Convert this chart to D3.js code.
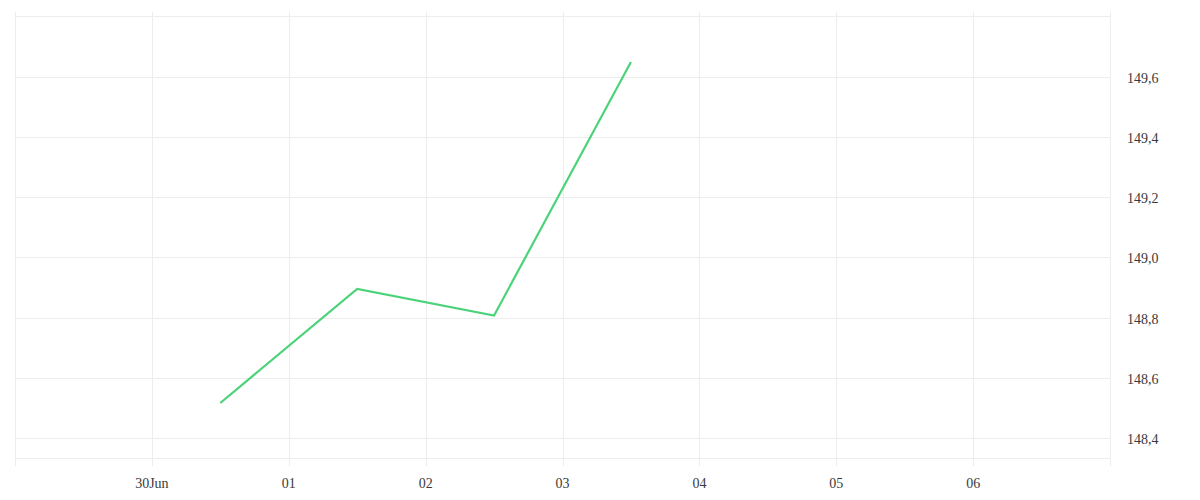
<!DOCTYPE html>
<html>
<head>
<meta charset="utf-8">
<script src="https://d3js.org/d3.v7.min.js"></script>
<style>
  body { margin: 0; background: #fff; }
  text { font-family: "Liberation Serif", serif; font-size: 14px; fill: #3a3a3a; }
</style>
</head>
<body>
<svg id="chart" width="1200" height="500"></svg>
<script>
// data
let dates = ["2023-06-30T12:00", "2023-07-01T12:00", "2023-07-02T12:00", "2023-07-03T12:00"]
let values = [148.516, 148.895, 148.807, 149.65]
let xTickDays = ["2023-06-29", "2023-06-30", "2023-07-01", "2023-07-02", "2023-07-03", "2023-07-04", "2023-07-05", "2023-07-06", "2023-07-07"]
let xTickLabels = ["", "30Jun", "01", "02", "03", "04", "05", "06", ""]
let yTicks = [148.4, 148.6, 148.8, 149.0, 149.2, 149.4, 149.6]

let parse = d3.timeParse("%Y-%m-%dT%H:%M")
let parseDay = d3.timeParse("%Y-%m-%d")
let tickDates = xTickDays.map(parseDay)

let mLeft = 15, mRight = 1110, mTop = 16, mBottom = 458
let svg = d3.select("#chart")

let x = d3.scaleTime()
    .domain([tickDates[0], tickDates[tickDates.length - 1]])
    .range([mLeft, mRight])
let y = d3.scaleLinear()
    .domain([148.333, 149.803])
    .range([mBottom, mTop])

let locale = d3.formatLocale({decimal: ",", thousands: ".", grouping: [3], currency: ["", "€"]})
let fmt = locale.format(".1f")

// grid
let grid = svg.append("g").attr("stroke", "#ededed").attr("stroke-width", 1)
grid.selectAll("line.h")
    .data(yTicks.concat(y.domain()))
    .enter().append("line")
    .attr("class", "h")
    .attr("x1", mLeft).attr("x2", mRight)
    .attr("y1", d => Math.round(y(d)) + 0.5)
    .attr("y2", d => Math.round(y(d)) + 0.5)
grid.selectAll("line.v")
    .data(tickDates)
    .enter().append("line")
    .attr("class", "v")
    .attr("x1", d => Math.round(x(d)) + 0.5)
    .attr("x2", d => Math.round(x(d)) + 0.5)
    .attr("y1", mTop - 4).attr("y2", mBottom + 8)

// x labels
svg.append("g").selectAll("text")
    .data(tickDates)
    .enter().append("text")
    .attr("x", d => x(d))
    .attr("y", mBottom + 30)
    .attr("text-anchor", "middle")
    .text((d, i) => xTickLabels[i])

// y labels
svg.append("g").selectAll("text")
    .data(yTicks)
    .enter().append("text")
    .attr("x", mRight + 17)
    .attr("y", d => y(d) + 6)
    .text(d => fmt(d))

// line
let pts = dates.map((d, i) => ({date: parse(d), value: values[i]}))
svg.append("path")
    .datum(pts)
    .attr("fill", "none")
    .attr("stroke", "#4cd37a")
    .attr("stroke-width", 2.2)
    .attr("d", d3.line().x(d => x(d.date)).y(d => y(d.value)))
</script>
</body>
</html>
